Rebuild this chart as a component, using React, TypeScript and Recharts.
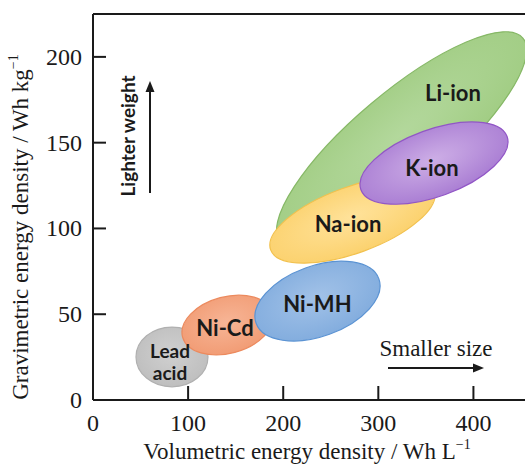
import { ScatterChart, Scatter, XAxis, YAxis, ReferenceLine, Customized } from "recharts";

// drawing order: back to front
const technologies = ["Li-ion", "Na-ion", "K-ion", "Lead acid", "Ni-Cd", "Ni-MH"];
// long axis of each region, low end -> high end (Wh/L, Wh/kg)
const volLow = [197, 186.8, 281.7, 45.2, 94.2, 171.5];
const gravLow = [92, 87.5, 122.6, 25.1, 36.7, 44.7];
const volHigh = [452, 358.8, 435.4, 120.9, 188.6, 300.6];
const gravHigh = [211, 122.3, 153.6, 25.1, 50.7, 70.6];
const widthRatio = [0.3, 0.38, 0.43, 0.83, 0.61, 0.54];
// label anchors
const labelVol = [378.5, 268.1, 356.4, 81.0, 138.8, 236.0];
const labelGrav = [178.7, 102.6, 135.5, 22.1, 41.7, 56.0];

const xTicks = [0, 100, 200, 300, 400];
const yTicks = [0, 50, 100, 150, 200];

const X_MAX = 470;
const Y_MAX = 225;

const W = 560;
const H = 467;
const M = { top: 14, right: 20, bottom: 0, left: 0 };
const Y_AXIS_W = 93;
const X_AXIS_H = 67;
const PLOT_W = W - M.left - M.right - Y_AXIS_W;
const PLOT_H = H - M.top - M.bottom - X_AXIS_H;
const PX_X = PLOT_W / X_MAX;
const PX_Y = PLOT_H / Y_MAX;

const SERIF = "Liberation Serif";
const SANS = "Lato";
const INK = "#1a1a1a";

const styles: Record<string, { stroke: string; grad: [string, string] }> = {
  "Li-ion": { stroke: "#86b866", grad: ["#b3d89c", "#a0cc82"] },
  "Na-ion": { stroke: "#f2c14e", grad: ["#ffe29a", "#fbd06a"] },
  "K-ion": { stroke: "#9156c6", grad: ["#cdaee6", "#a77ad2"] },
  "Lead acid": { stroke: "#b0b0b0", grad: ["#d0d0d0", "#bdbdbd"] },
  "Ni-Cd": { stroke: "#ec8a5e", grad: ["#f7b596", "#f19a72"] },
  "Ni-MH": { stroke: "#5b93d3", grad: ["#a2c2e8", "#80abdd"] },
};

const regions = technologies.map((name, i) => ({
  name,
  x: (volLow[i] + volHigh[i]) / 2,
  y: (gravLow[i] + gravHigh[i]) / 2,
  dx: (volHigh[i] - volLow[i]) / 2,
  dy: (gravHigh[i] - gravLow[i]) / 2,
  ratio: widthRatio[i],
}));

const labels = technologies.map((name, i) => ({ name, x: labelVol[i], y: labelGrav[i] }));

const RegionShape = (props: any) => {
  const { cx, cy, payload } = props;
  const ox = payload.dx * PX_X;
  const oy = -payload.dy * PX_Y;
  const a = Math.hypot(ox, oy);
  const ang = (Math.atan2(oy, ox) * 180) / Math.PI;
  const s = styles[payload.name];
  const id = "g-" + payload.name.replace(/\s/g, "");
  return (
    <ellipse
      cx={cx}
      cy={cy}
      rx={a}
      ry={a * payload.ratio}
      transform={`rotate(${ang} ${cx} ${cy})`}
      fill={`url(#${id})`}
      stroke={s.stroke}
      strokeWidth={1.2}
    />
  );
};

const LabelShape = (props: any) => {
  const { cx, cy, payload } = props;
  if (payload.name === "Lead acid") {
    return (
      <text x={cx} y={cy} textAnchor="middle" fontFamily={SANS} fontWeight={700} fontSize={19} fill={INK}>
        <tspan x={cx} dy={-4}>Lead</tspan>
        <tspan x={cx} dy={22}>acid</tspan>
      </text>
    );
  }
  return (
    <text x={cx} y={cy} dy={8} textAnchor="middle" fontFamily={SANS} fontWeight={700} fontSize={22} fill={INK}>
      {payload.name}
    </text>
  );
};

const XTick = (props: any) => {
  const { x, y, payload } = props;
  return (
    <g>
      {payload.value > 0 && <line x1={x} x2={x} y1={y} y2={y - 14} stroke={INK} strokeWidth={2} />}
      <text x={x} y={y + 31} textAnchor="middle" fontFamily={SERIF} fontSize={24} fill={INK}>
        {payload.value}
      </text>
    </g>
  );
};

const YTick = (props: any) => {
  const { x, y, payload } = props;
  return (
    <g>
      {payload.value > 0 && <line x1={x} x2={x + 13} y1={y} y2={y} stroke={INK} strokeWidth={2} />}
      <text x={x - 11} y={y} dy={8} textAnchor="end" fontFamily={SERIF} fontSize={24} fill={INK}>
        {payload.value}
      </text>
    </g>
  );
};

const Annotations = () => (
  <g fontFamily={SERIF}>
    <text x={28} y={227} transform="rotate(-90 28 227)" textAnchor="middle" fontFamily={SERIF} fontSize={23} fill={INK}>
      Gravimetric energy density / Wh kg
      <tspan fontSize={14} dy={-10}>−1</tspan>
    </text>
    <text x={307} y={459} textAnchor="middle" fontFamily={SERIF} fontSize={23} fill={INK}>
      Volumetric energy density / Wh L
      <tspan fontSize={14} dy={-10}>−1</tspan>
    </text>
    <text
      x={135}
      y={136}
      transform="rotate(-90 135 136)"
      textAnchor="middle"
      fontFamily={SANS}
      fontWeight={700}
      fontSize={19}
      fill={INK}
    >
      Lighter weight
    </text>
    <line x1={150} x2={150} y1={193} y2={90} stroke={INK} strokeWidth={2} />
    <polygon points="150,81 145.5,92 154.5,92" fill={INK} />
    <text x={436} y={356} textAnchor="middle" fontFamily={SERIF} fontWeight={400} fontSize={23} fill={INK}>
      Smaller size
    </text>
    <line x1={388} x2={474} y1={368} y2={368} stroke={INK} strokeWidth={2} />
    <polygon points="484,368 473,363.5 473,372.5" fill={INK} />
  </g>
);

export default function App() {
  return (
    <div style={{ position: "absolute", left: 0, top: 0, width: 525, height: 467, overflow: "hidden", background: "#fff" }}>
      <ScatterChart width={W} height={H} margin={M}>
        <defs>
          {technologies.map((name) => (
            <radialGradient key={name} id={"g-" + name.replace(/\s/g, "")} cx="50%" cy="45%" r="60%">
              <stop offset="0%" stopColor={styles[name].grad[0]} />
              <stop offset="100%" stopColor={styles[name].grad[1]} />
            </radialGradient>
          ))}
        </defs>
        <XAxis
          type="number"
          dataKey="x"
          domain={[0, X_MAX]}
          ticks={xTicks}
          height={X_AXIS_H}
          axisLine={{ stroke: INK, strokeWidth: 2 }}
          tickLine={false}
          tickSize={0}
          tickMargin={0}
          tick={<XTick />}
          interval={0}
        />
        <YAxis
          type="number"
          dataKey="y"
          domain={[0, Y_MAX]}
          ticks={yTicks}
          width={Y_AXIS_W}
          axisLine={{ stroke: INK, strokeWidth: 2 }}
          tickLine={false}
          tickSize={0}
          tickMargin={0}
          tick={<YTick />}
          interval={0}
        />
        <ReferenceLine y={Y_MAX} stroke={INK} strokeWidth={2} />
        <ReferenceLine x={X_MAX} stroke={INK} strokeWidth={2} />
        <Scatter data={regions} shape={<RegionShape />} isAnimationActive={false} />
        <Scatter data={labels} shape={<LabelShape />} isAnimationActive={false} />
        <Customized component={<Annotations />} />
      </ScatterChart>
    </div>
  );
}
